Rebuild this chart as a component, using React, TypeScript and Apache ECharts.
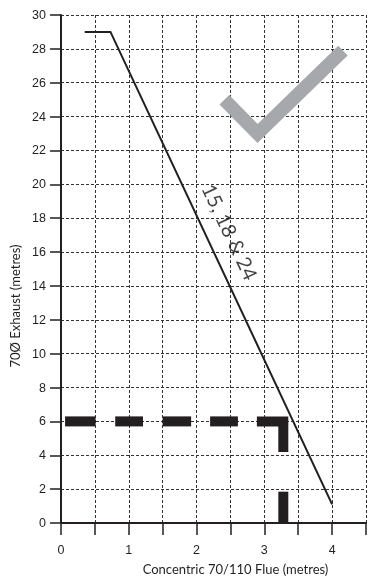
import React, { useEffect, useRef } from "react";
import * as echarts from "echarts";

const xAxisTitle = "Concentric 70/110 Flue (metres)";
const yAxisTitle = "70Ø Exhaust (metres)";
const lineLabel = "15, 18 & 24";

// main max-length line (x: concentric flue m, y: exhaust m)
const ventLine: number[][] = [
  [0.35, 29],
  [0.73, 29],
  [4.0, 1.1],
];

// grey tick mark
const checkMark: number[][] = [
  [2.41, 25.0],
  [2.9, 23.0],
  [4.16, 27.9],
];

// heavy dashed limit line
const dashSegments: number[][][] = [
  [[0.06, 6], [0.51, 6]],
  [[0.8, 6], [1.21, 6]],
  [[1.5, 6], [1.92, 6]],
  [[2.2, 6], [2.61, 6]],
  [[2.89, 6], [3.28, 6], [3.28, 4.2]],
  [[3.28, 1.85], [3.28, 0]],
];

const labelPoint: number[][] = [[2.5, 17.2]];

const ink = "#231f20";

export default function App() {
  const ref = useRef<HTMLDivElement>(null);
  useEffect(() => {
    if (!ref.current) return;
    const chart = echarts.init(ref.current, undefined, { renderer: "svg" });
    const splitLine = {
      show: true,
      lineStyle: { type: [3, 2], color: "#333", width: 1 },
    };
    const series: any[] = [
      {
        type: "line",
        data: checkMark,
        showSymbol: false,
        symbol: "none",
        lineStyle: { color: "#a7a8ab", width: 13.5, cap: "butt", join: "miter" },
        z: 3,
      },
      ...dashSegments.map((seg) => ({
        type: "line",
        data: seg,
        showSymbol: false,
        symbol: "none",
        lineStyle: { color: ink, width: 10, cap: "butt", join: "miter" },
        z: 4,
      })),
      {
        type: "line",
        data: ventLine,
        showSymbol: false,
        symbol: "none",
        lineStyle: { color: ink, width: 2, cap: "butt", join: "miter" },
        z: 5,
      },
      {
        type: "scatter",
        data: labelPoint,
        symbolSize: 0,
        z: 6,
        label: {
          show: true,
          position: "inside",
          formatter: () => lineLabel,
          rotate: -64.8,
          fontFamily: "Lato",
          fontSize: 20,
          color: "#111",
        },
      },
    ];
    chart.setOption({
      animation: false,
      grid: { left: 61, right: 1, top: 15, bottom: 58 },
      xAxis: {
        type: "value",
        min: 0,
        max: 4.5,
        interval: 0.5,
        name: xAxisTitle,
        nameLocation: "middle",
        nameGap: 39,
        nameTextStyle: {
          fontFamily: "Lato",
          fontSize: 13,
          color: ink,
          padding: [0, 0, 0, 44],
        },
        axisLine: { lineStyle: { color: ink, width: 2 } },
        axisTick: { length: 12, lineStyle: { color: ink, width: 1.5 } },
        axisLabel: {
          formatter: (v: number) => (Number.isInteger(v) ? String(v) : ""),
          margin: 20,
          fontFamily: "Liberation Sans",
          fontSize: 12.5,
          color: ink,
        },
        splitLine,
      },
      yAxis: {
        type: "value",
        min: 0,
        max: 30,
        interval: 2,
        name: yAxisTitle,
        nameLocation: "middle",
        nameGap: 40,
        nameTextStyle: {
          fontFamily: "Lato",
          fontSize: 13,
          color: ink,
          padding: [0, 74, 0, 0],
        },
        axisLine: { lineStyle: { color: ink, width: 2 } },
        axisTick: { length: 11, lineStyle: { color: ink, width: 1.5 } },
        axisLabel: {
          margin: 15,
          fontFamily: "Liberation Sans",
          fontSize: 12.5,
          color: ink,
        },
        splitLine,
      },
      series,
    });
    return () => chart.dispose();
  }, []);
  return <div ref={ref} style={{ width: 369, height: 581, position: "fixed", left: 0, top: 0 }} />;
}
